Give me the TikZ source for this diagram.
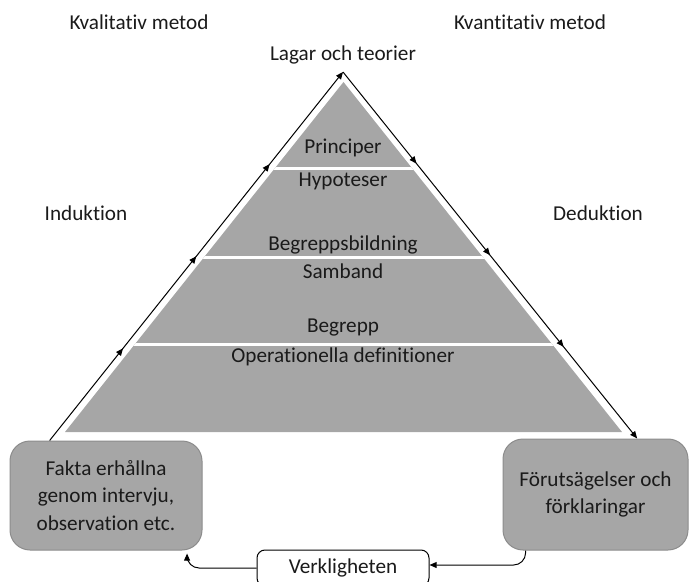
\documentclass[tikz,border=0pt]{standalone}
\usepackage{fontspec}
\setmainfont{Carlito}[Ligatures=NoCommon]
\usepackage{tikz}
\usetikzlibrary{arrows.meta,calc,decorations.markings}
\definecolor{layerc}{HTML}{A6A6A6}
\definecolor{edgec}{HTML}{8C8C8C}
\definecolor{inkc}{HTML}{1A1A1A}
\tikzset{
  >={Triangle[length=3.6pt,width=3pt]},
  txt/.style={font=\fontsize{10.6}{13.8}\selectfont,text=inkc,inner sep=0pt,align=center},
  box/.style={txt,draw=edgec,line width=0.5pt,fill=layerc,rounded corners=10pt},
  realbox/.style={txt,draw=black,line width=0.5pt,fill=white,rounded corners=4pt,minimum width=86pt,minimum height=18pt},
  side/.style={->,draw=black,line width=0.5pt,postaction={decorate},
    decoration={markings,mark=at position 0.25 with {\arrow{>}},
      mark=at position 0.5 with {\arrow{>}},mark=at position 0.75 with {\arrow{>}}}},
  link/.style={->,draw=black,line width=0.5pt,rounded corners=6pt},
  sep/.style={draw=white,line width=1.5pt},
}

\begin{document}
\begin{tikzpicture}[x=0.5pt,y=-0.5pt]
  \useasboundingbox (0,0) rectangle (690,582);
  % pyramid
  \fill[layerc] (343.5,82) -- (622,432) -- (65,432) -- cycle;
  \begin{scope}
    \clip (343.5,82) -- (622,432) -- (65,432) -- cycle;
    \foreach \y in {168.5,257.5,345} \draw[sep] (0,\y) -- (690,\y);
  \end{scope}
  \node[txt] (princ) at (343,148) {Principer};
  \node[txt] (hyp) at (343,181) {Hypoteser};
  \node[txt] (bild) at (343,245) {Begreppsbildning};
  \node[txt] (samb) at (343,271) {Samband};
  \node[txt] (begr) at (343,328) {Begrepp};
  \node[txt] (oper) at (343,357) {Operationella definitioner};
  % labels
  \node[txt] (lagar) at (343,55) {Lagar och teorier};
  \node[txt] (kval) at (139,22) {Kvalitativ metod};
  \node[txt] (kvant) at (530,22) {Kvantitativ metod};
  \node[txt] (ind) at (86,213) {Induktion};
  \node[txt] (ded) at (598,213) {Deduktion};
  % boxes
  \node[box,minimum width=96pt,minimum height=54.5pt] (fakta) at (106,495.5) {Fakta erhållna\\genom intervju,\\observation etc.};
  \node[box,minimum width=92.5pt,minimum height=55.5pt] (forut) at (595.5,494.5) {Förutsägelser och\\förklaringar};
  \node[realbox] (verk) at (343,568) {Verkligheten};
  \coordinate (apex) at (343,72);
  \draw[side] ($(fakta.north west)!0.208!(fakta.north east)$) -- (apex);
  \draw[side] (apex) -- ($(forut.north west)!0.724!(forut.north east)$);
  \draw[link,shorten >=1.5pt] (verk.west) -| ($(fakta.south west)!0.92!(fakta.south east)$);
  \draw[link] ($(forut.south west)!0.124!(forut.south east)$) |- ([yshift=1.5pt]verk.east);
\end{tikzpicture}
\end{document}
